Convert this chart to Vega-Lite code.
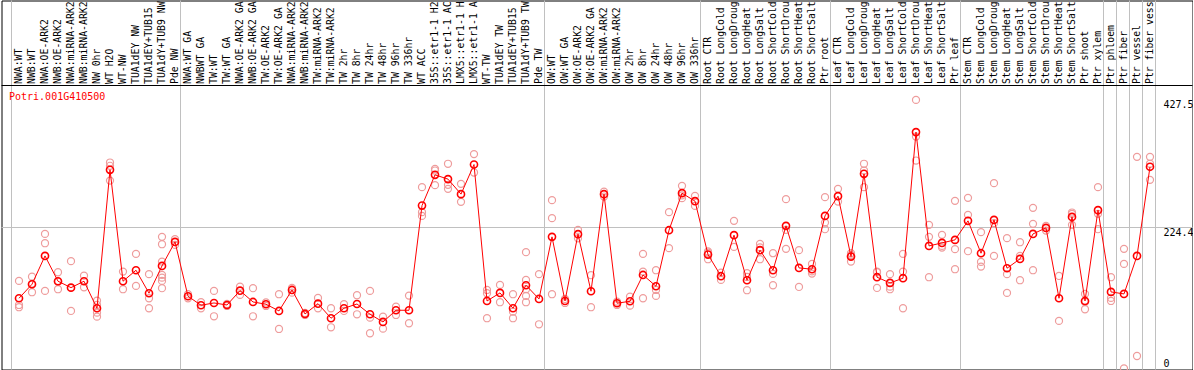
{
  "$schema": "https://vega.github.io/schema/vega-lite/v6.json",
  "width": 1191,
  "height": 369,
  "autosize": {"type": "none"},
  "padding": {"left": 1.5, "top": 0.5, "right": 0, "bottom": 0},
  "background": "white",
  "config": {"view": {"stroke": "black", "strokeWidth": 1}, "font": "DejaVu Sans Mono"},
  "datasets": {
    "groups": [
      {"sample": "NWA:WT"}, {"sample": "NWA:WT GA"}, {"sample": "OW:WT"}, {"sample": "Root CTR"}, {"sample": "Leaf CTR"},
      {"sample": "Stem CTR"}, {"sample": "Ptr phloem"}, {"sample": "Ptr fiber"}, {"sample": "Ptr vessel"}, {"sample": "Ptr fiber vessel"}
    ],
    "means": [
      {"sample": "NWA:WT", "value": 111.8}, {"sample": "NWB:WT", "value": 134.1}, {"sample": "NWA:OE-ARK2", "value": 179.2}, {"sample": "NWB:OE-ARK2", "value": 138.9},
      {"sample": "NWA:miRNA-ARK2", "value": 128.7}, {"sample": "NWB:miRNA-ARK2", "value": 138.9}, {"sample": "NW 0hr", "value": 95.9}, {"sample": "WT H2O", "value": 316.2},
      {"sample": "WT-NW", "value": 138.9}, {"sample": "TUA1dEY NW", "value": 156.4}, {"sample": "TUA1dEY+TUB15 NW", "value": 119.8}, {"sample": "TUA1dY+TUB9 NW", "value": 163.3},
      {"sample": "Pde NW", "value": 201.5}, {"sample": "NWA:WT GA", "value": 115.0}, {"sample": "NWBWT GA", "value": 100.7}, {"sample": "TW:WT", "value": 104.3},
      {"sample": "TW:WT GA", "value": 101.1}, {"sample": "NWA:OE-ARK2 GA", "value": 123.9}, {"sample": "NWB:OE-ARK2 GA", "value": 105.9}, {"sample": "TW:OE-ARK2", "value": 102.3},
      {"sample": "TW:OE-ARK2 GA", "value": 91.6}, {"sample": "NWA:miRNA-ARK2 GA", "value": 125.0}, {"sample": "NWB:miRNA-ARK2 GA", "value": 86.8}, {"sample": "TW:miRNA-ARK2", "value": 103.2},
      {"sample": "TW:miRNA-ARK2 GA", "value": 80.0}, {"sample": "TW 2hr", "value": 95.9}, {"sample": "TW 8hr", "value": 102.7}, {"sample": "TW 24hr", "value": 86.3},
      {"sample": "TW 48hr", "value": 74.1}, {"sample": "TW 96hr", "value": 92.7}, {"sample": "TW 336hr", "value": 92.7}, {"sample": "WT ACC", "value": 259.3},
      {"sample": "35S::etr1-1 H2O", "value": 308.2}, {"sample": "35S::etr1-1 ACC", "value": 301.4}, {"sample": "LMX5::etr1-1 H2O", "value": 277.5}, {"sample": "LMX5::etr1-1 ACC", "value": 324.6},
      {"sample": "WT-TW", "value": 107.5}, {"sample": "TUA1dEY TW", "value": 120.3}, {"sample": "TUA1dEY+TUB15 TW", "value": 95.9}, {"sample": "TUA1dY+TUB9 TW", "value": 132.5},
      {"sample": "Pde TW", "value": 110.7}, {"sample": "OW:WT", "value": 209.5}, {"sample": "OW:WT GA", "value": 107.5}, {"sample": "OW:OE-ARK2", "value": 213.8},
      {"sample": "OW:OE-ARK2 GA", "value": 123.0}, {"sample": "OW:miRNA-ARK2", "value": 277.5}, {"sample": "OW:miRNA-ARK2 GA", "value": 103.9}, {"sample": "OW 2hr", "value": 107.0},
      {"sample": "OW 8hr", "value": 148.9}, {"sample": "OW 24hr", "value": 130.9}, {"sample": "OW 48hr", "value": 220.1}, {"sample": "OW 96hr", "value": 279.1},
      {"sample": "OW 336hr", "value": 266.3}, {"sample": "Root CTR", "value": 181.3}, {"sample": "Root LongCold", "value": 146.9}, {"sample": "Root LongDrought", "value": 212.2},
      {"sample": "Root LongHeat", "value": 140.5}, {"sample": "Root LongSalt", "value": 188.3}, {"sample": "Root ShortCold", "value": 156.4}, {"sample": "Root ShortDrought", "value": 227.0},
      {"sample": "Root ShortHeat", "value": 160.1}, {"sample": "Root ShortSalt", "value": 158.0}, {"sample": "Ptr root", "value": 242.9}, {"sample": "Leaf CTR", "value": 274.3},
      {"sample": "Leaf LongCold", "value": 178.1}, {"sample": "Leaf LongDrought", "value": 309.8}, {"sample": "Leaf LongHeat", "value": 145.3}, {"sample": "Leaf LongSalt", "value": 136.2},
      {"sample": "Leaf ShortCold", "value": 143.7}, {"sample": "Leaf ShortDrought", "value": 376.2}, {"sample": "Leaf ShortHeat", "value": 195.1}, {"sample": "Leaf ShortSalt", "value": 199.9},
      {"sample": "Ptr leaf", "value": 204.7}, {"sample": "Stem CTR", "value": 235.0}, {"sample": "Stem LongCold", "value": 183.5}, {"sample": "Stem LongDrought", "value": 236.5},
      {"sample": "Stem LongHeat", "value": 159.6}, {"sample": "Stem LongSalt", "value": 174.4}, {"sample": "Stem ShortCold", "value": 214.2}, {"sample": "Stem ShortDrought", "value": 223.8},
      {"sample": "Stem ShortHeat", "value": 111.8}, {"sample": "Stem ShortSalt", "value": 241.3}, {"sample": "Ptr shoot", "value": 107.5}, {"sample": "Ptr xylem", "value": 252.0},
      {"sample": "Ptr phloem", "value": 121.9}, {"sample": "Ptr fiber", "value": 118.7}, {"sample": "Ptr vessel", "value": 179.2}, {"sample": "Ptr fiber vessel", "value": 321.0}
    ],
    "reps": [
      {"sample": "NWA:WT", "value": 139.4}, {"sample": "NWA:WT", "value": 101.1}, {"sample": "NWA:WT", "value": 97.5},
      {"sample": "NWB:WT", "value": 146.2}, {"sample": "NWB:WT", "value": 121.4}, {"sample": "NWB:WT", "value": 134.7},
      {"sample": "NWA:OE-ARK2", "value": 214.2}, {"sample": "NWA:OE-ARK2", "value": 199.4}, {"sample": "NWA:OE-ARK2", "value": 123.5},
      {"sample": "NWB:OE-ARK2", "value": 153.2}, {"sample": "NWB:OE-ARK2", "value": 126.2}, {"sample": "NWB:OE-ARK2", "value": 138.0},
      {"sample": "NWA:miRNA-ARK2", "value": 170.8}, {"sample": "NWA:miRNA-ARK2", "value": 91.6},
      {"sample": "NWB:miRNA-ARK2", "value": 147.8}, {"sample": "NWB:miRNA-ARK2", "value": 129.3},
      {"sample": "NW 0hr", "value": 108.0}, {"sample": "NW 0hr", "value": 101.1}, {"sample": "NW 0hr", "value": 88.9}, {"sample": "NW 0hr", "value": 82.5},
      {"sample": "WT H2O", "value": 327.8}, {"sample": "WT H2O", "value": 322.6}, {"sample": "WT H2O", "value": 299.1},
      {"sample": "WT-NW", "value": 154.2}, {"sample": "WT-NW", "value": 126.2},
      {"sample": "TUA1dEY NW", "value": 182.4}, {"sample": "TUA1dEY NW", "value": 131.4},
      {"sample": "TUA1dEY+TUB15 NW", "value": 150.1}, {"sample": "TUA1dEY+TUB15 NW", "value": 111.8}, {"sample": "TUA1dEY+TUB15 NW", "value": 95.9},
      {"sample": "TUA1dY+TUB9 NW", "value": 209.5}, {"sample": "TUA1dY+TUB9 NW", "value": 197.8}, {"sample": "TUA1dY+TUB9 NW", "value": 170.1}, {"sample": "TUA1dY+TUB9 NW", "value": 148.9}, {"sample": "TUA1dY+TUB9 NW", "value": 144.6}, {"sample": "TUA1dY+TUB9 NW", "value": 139.4}, {"sample": "TUA1dY+TUB9 NW", "value": 127.8},
      {"sample": "Pde NW", "value": 205.8}, {"sample": "Pde NW", "value": 196.7},
      {"sample": "NWA:WT GA", "value": 111.8}, {"sample": "NWA:WT GA", "value": 118.2},
      {"sample": "NWBWT GA", "value": 95.9}, {"sample": "NWBWT GA", "value": 105.5},
      {"sample": "TW:WT", "value": 123.5}, {"sample": "TW:WT", "value": 83.1},
      {"sample": "TW:WT GA", "value": 102.7}, {"sample": "TW:WT GA", "value": 99.5},
      {"sample": "NWA:OE-ARK2 GA", "value": 130.3}, {"sample": "NWA:OE-ARK2 GA", "value": 117.1},
      {"sample": "NWB:OE-ARK2 GA", "value": 127.8}, {"sample": "NWB:OE-ARK2 GA", "value": 83.1},
      {"sample": "TW:OE-ARK2", "value": 99.5}, {"sample": "TW:OE-ARK2", "value": 105.1},
      {"sample": "TW:OE-ARK2 GA", "value": 118.2}, {"sample": "TW:OE-ARK2 GA", "value": 62.9},
      {"sample": "NWA:miRNA-ARK2 GA", "value": 128.2}, {"sample": "NWA:miRNA-ARK2 GA", "value": 120.7},
      {"sample": "NWB:miRNA-ARK2 GA", "value": 86.8}, {"sample": "NWB:miRNA-ARK2 GA", "value": 88.4}, {"sample": "NWB:miRNA-ARK2 GA", "value": 85.2},
      {"sample": "TW:miRNA-ARK2", "value": 112.3}, {"sample": "TW:miRNA-ARK2", "value": 95.9},
      {"sample": "TW:miRNA-ARK2 GA", "value": 95.9}, {"sample": "TW:miRNA-ARK2 GA", "value": 65.6},
      {"sample": "TW 2hr", "value": 102.3}, {"sample": "TW 2hr", "value": 91.6},
      {"sample": "TW 8hr", "value": 116.6}, {"sample": "TW 8hr", "value": 86.3},
      {"sample": "TW 24hr", "value": 123.5}, {"sample": "TW 24hr", "value": 80.9}, {"sample": "TW 24hr", "value": 56.1},
      {"sample": "TW 48hr", "value": 82.5}, {"sample": "TW 48hr", "value": 63.4},
      {"sample": "TW 96hr", "value": 98.4}, {"sample": "TW 96hr", "value": 85.2},
      {"sample": "TW 336hr", "value": 116.0}, {"sample": "TW 336hr", "value": 72.0},
      {"sample": "WT ACC", "value": 288.6}, {"sample": "WT ACC", "value": 248.8}, {"sample": "WT ACC", "value": 242.9},
      {"sample": "35S::etr1-1 H2O", "value": 317.8}, {"sample": "35S::etr1-1 H2O", "value": 315.1}, {"sample": "35S::etr1-1 H2O", "value": 291.8},
      {"sample": "35S::etr1-1 ACC", "value": 325.8}, {"sample": "35S::etr1-1 ACC", "value": 292.3}, {"sample": "35S::etr1-1 ACC", "value": 285.9},
      {"sample": "LMX5::etr1-1 H2O", "value": 293.9}, {"sample": "LMX5::etr1-1 H2O", "value": 265.2},
      {"sample": "LMX5::etr1-1 ACC", "value": 341.2}, {"sample": "LMX5::etr1-1 ACC", "value": 311.9},
      {"sample": "WT-TW", "value": 125.0}, {"sample": "WT-TW", "value": 119.8}, {"sample": "WT-TW", "value": 80.0},
      {"sample": "TUA1dEY TW", "value": 133.0}, {"sample": "TUA1dEY TW", "value": 105.5},
      {"sample": "TUA1dEY+TUB15 TW", "value": 118.2}, {"sample": "TUA1dEY+TUB15 TW", "value": 90.5}, {"sample": "TUA1dEY+TUB15 TW", "value": 80.0},
      {"sample": "TUA1dY+TUB9 TW", "value": 185.1}, {"sample": "TUA1dY+TUB9 TW", "value": 141.0}, {"sample": "TUA1dY+TUB9 TW", "value": 126.2}, {"sample": "TUA1dY+TUB9 TW", "value": 115.5}, {"sample": "TUA1dY+TUB9 TW", "value": 105.5},
      {"sample": "Pde TW", "value": 150.1}, {"sample": "Pde TW", "value": 70.4},
      {"sample": "OW:WT", "value": 267.9}, {"sample": "OW:WT", "value": 239.3}, {"sample": "OW:WT", "value": 118.2},
      {"sample": "OW:WT GA", "value": 110.7}, {"sample": "OW:WT GA", "value": 104.3},
      {"sample": "OW:OE-ARK2", "value": 220.6}, {"sample": "OW:OE-ARK2", "value": 207.1},
      {"sample": "OW:OE-ARK2 GA", "value": 148.5}, {"sample": "OW:OE-ARK2 GA", "value": 97.5},
      {"sample": "OW:miRNA-ARK2", "value": 281.6}, {"sample": "OW:miRNA-ARK2", "value": 273.7},
      {"sample": "OW:miRNA-ARK2 GA", "value": 106.4}, {"sample": "OW:miRNA-ARK2 GA", "value": 101.1},
      {"sample": "OW 2hr", "value": 114.4}, {"sample": "OW 2hr", "value": 100.0},
      {"sample": "OW 8hr", "value": 182.4}, {"sample": "OW 8hr", "value": 154.2}, {"sample": "OW 8hr", "value": 111.8},
      {"sample": "OW 24hr", "value": 156.4}, {"sample": "OW 24hr", "value": 125.0}, {"sample": "OW 24hr", "value": 115.5},
      {"sample": "OW 48hr", "value": 248.8}, {"sample": "OW 48hr", "value": 191.5},
      {"sample": "OW 96hr", "value": 290.7}, {"sample": "OW 96hr", "value": 271.1}, {"sample": "OW 96hr", "value": 275.5},
      {"sample": "OW 336hr", "value": 274.8}, {"sample": "OW 336hr", "value": 258.8},
      {"sample": "Root CTR", "value": 184.4}, {"sample": "Root CTR", "value": 173.9}, {"sample": "Root CTR", "value": 186.4},
      {"sample": "Root LongCold", "value": 152.6}, {"sample": "Root LongCold", "value": 141.0},
      {"sample": "Root LongDrought", "value": 235.0}, {"sample": "Root LongDrought", "value": 193.5},
      {"sample": "Root LongHeat", "value": 151.6}, {"sample": "Root LongHeat", "value": 124.6}, {"sample": "Root LongHeat", "value": 145.7},
      {"sample": "Root LongSalt", "value": 198.3}, {"sample": "Root LongSalt", "value": 173.9}, {"sample": "Root LongSalt", "value": 192.7},
      {"sample": "Root ShortCold", "value": 183.5}, {"sample": "Root ShortCold", "value": 150.5}, {"sample": "Root ShortCold", "value": 132.5},
      {"sample": "Root ShortDrought", "value": 269.5}, {"sample": "Root ShortDrought", "value": 220.6}, {"sample": "Root ShortDrought", "value": 190.4},
      {"sample": "Root ShortHeat", "value": 188.3}, {"sample": "Root ShortHeat", "value": 129.8},
      {"sample": "Root ShortSalt", "value": 166.5}, {"sample": "Root ShortSalt", "value": 151.0}, {"sample": "Root ShortSalt", "value": 154.5},
      {"sample": "Ptr root", "value": 272.7}, {"sample": "Ptr root", "value": 232.2}, {"sample": "Ptr root", "value": 221.7},
      {"sample": "Leaf CTR", "value": 285.9}, {"sample": "Leaf CTR", "value": 265.7},
      {"sample": "Leaf LongCold", "value": 183.5}, {"sample": "Leaf LongCold", "value": 170.1}, {"sample": "Leaf LongCold", "value": 180.8},
      {"sample": "Leaf LongDrought", "value": 325.8}, {"sample": "Leaf LongDrought", "value": 288.6}, {"sample": "Leaf LongDrought", "value": 315.1},
      {"sample": "Leaf LongHeat", "value": 154.2}, {"sample": "Leaf LongHeat", "value": 128.2}, {"sample": "Leaf LongHeat", "value": 153.2},
      {"sample": "Leaf LongSalt", "value": 150.1}, {"sample": "Leaf LongSalt", "value": 130.3}, {"sample": "Leaf LongSalt", "value": 126.2},
      {"sample": "Leaf ShortCold", "value": 182.4}, {"sample": "Leaf ShortCold", "value": 154.2}, {"sample": "Leaf ShortCold", "value": 95.9},
      {"sample": "Leaf ShortDrought", "value": 427.5}, {"sample": "Leaf ShortDrought", "value": 369.2}, {"sample": "Leaf ShortDrought", "value": 331.0},
      {"sample": "Leaf ShortHeat", "value": 228.6}, {"sample": "Leaf ShortHeat", "value": 209.5}, {"sample": "Leaf ShortHeat", "value": 145.3},
      {"sample": "Leaf ShortSalt", "value": 212.7}, {"sample": "Leaf ShortSalt", "value": 192.4}, {"sample": "Leaf ShortSalt", "value": 195.1},
      {"sample": "Ptr leaf", "value": 266.8}, {"sample": "Ptr leaf", "value": 189.9}, {"sample": "Ptr leaf", "value": 158.0},
      {"sample": "Stem CTR", "value": 271.6}, {"sample": "Stem CTR", "value": 244.5}, {"sample": "Stem CTR", "value": 186.7},
      {"sample": "Stem LongCold", "value": 217.0}, {"sample": "Stem LongCold", "value": 169.6}, {"sample": "Stem LongCold", "value": 162.2},
      {"sample": "Stem LongDrought", "value": 295.0}, {"sample": "Stem LongDrought", "value": 231.3}, {"sample": "Stem LongDrought", "value": 179.2},
      {"sample": "Stem LongHeat", "value": 207.4}, {"sample": "Stem LongHeat", "value": 150.1}, {"sample": "Stem LongHeat", "value": 120.3},
      {"sample": "Stem LongSalt", "value": 201.0}, {"sample": "Stem LongSalt", "value": 179.2}, {"sample": "Stem LongSalt", "value": 140.5},
      {"sample": "Stem ShortCold", "value": 255.7}, {"sample": "Stem ShortCold", "value": 230.2}, {"sample": "Stem ShortCold", "value": 156.4},
      {"sample": "Stem ShortDrought", "value": 226.9}, {"sample": "Stem ShortDrought", "value": 219.5},
      {"sample": "Stem ShortHeat", "value": 147.3}, {"sample": "Stem ShortHeat", "value": 75.7},
      {"sample": "Stem ShortSalt", "value": 248.2}, {"sample": "Stem ShortSalt", "value": 228.6}, {"sample": "Stem ShortSalt", "value": 246.1},
      {"sample": "Ptr shoot", "value": 118.7}, {"sample": "Ptr shoot", "value": 94.3}, {"sample": "Ptr shoot", "value": 105.9},
      {"sample": "Ptr xylem", "value": 288.6}, {"sample": "Ptr xylem", "value": 246.1}, {"sample": "Ptr xylem", "value": 221.7},
      {"sample": "Ptr phloem", "value": 145.3}, {"sample": "Ptr phloem", "value": 112.3}, {"sample": "Ptr phloem", "value": 107.5},
      {"sample": "Ptr fiber", "value": 190.4}, {"sample": "Ptr fiber", "value": 166.5}, {"sample": "Ptr fiber", "value": 0.3},
      {"sample": "Ptr vessel", "value": 336.9}, {"sample": "Ptr vessel", "value": 19.9},
      {"sample": "Ptr fiber vessel", "value": 336.9}, {"sample": "Ptr fiber vessel", "value": 325.8}, {"sample": "Ptr fiber vessel", "value": 300.3}
    ]
  },
  "layer": [
    {
      "data": {"name": "groups"},
      "mark": {"type": "rule", "color": "#c0c0c0", "strokeWidth": 1, "xOffset": -1},
      "encoding": {
        "x": {"field": "sample", "type": "nominal", "bandPosition": 0}
      }
    },
    {
      "data": {"values": [{"sample": "Ptr fiber vessel"}]},
      "mark": {"type": "rule", "color": "#c0c0c0", "strokeWidth": 1, "xOffset": -1},
      "encoding": {
        "x": {"field": "sample", "type": "nominal", "bandPosition": 1}
      }
    },
    {
      "data": {"values": [{"level": 224.4}]},
      "mark": {"type": "rule", "color": "#c0c0c0", "strokeWidth": 1},
      "encoding": {
        "y": {"field": "level", "type": "quantitative"}
      }
    },
    {
      "data": {"values": [{"level": 450.4}]},
      "mark": {"type": "rule", "color": "black", "strokeWidth": 1},
      "encoding": {
        "y": {"field": "level", "type": "quantitative"}
      }
    },
    {
      "data": {"name": "reps"},
      "mark": {"type": "point", "shape": "circle", "filled": false, "color": "#ee9c9c", "strokeWidth": 1.2, "size": 50, "opacity": 1},
      "encoding": {
        "x": {
          "field": "sample", "type": "nominal",
          "scale": {
            "domain": ["NWA:WT", "NWB:WT", "NWA:OE-ARK2", "NWB:OE-ARK2", "NWA:miRNA-ARK2", "NWB:miRNA-ARK2", "NW 0hr", "WT H2O", "WT-NW", "TUA1dEY NW", "TUA1dEY+TUB15 NW", "TUA1dY+TUB9 NW", "Pde NW",
              "NWA:WT GA", "NWBWT GA", "TW:WT", "TW:WT GA", "NWA:OE-ARK2 GA", "NWB:OE-ARK2 GA", "TW:OE-ARK2", "TW:OE-ARK2 GA", "NWA:miRNA-ARK2 GA", "NWB:miRNA-ARK2 GA", "TW:miRNA-ARK2", "TW:miRNA-ARK2 GA",
              "TW 2hr", "TW 8hr", "TW 24hr", "TW 48hr", "TW 96hr", "TW 336hr", "WT ACC", "35S::etr1-1 H2O", "35S::etr1-1 ACC", "LMX5::etr1-1 H2O", "LMX5::etr1-1 ACC", "WT-TW", "TUA1dEY TW", "TUA1dEY+TUB15 TW", "TUA1dY+TUB9 TW", "Pde TW",
              "OW:WT", "OW:WT GA", "OW:OE-ARK2", "OW:OE-ARK2 GA", "OW:miRNA-ARK2", "OW:miRNA-ARK2 GA", "OW 2hr", "OW 8hr", "OW 24hr", "OW 48hr", "OW 96hr", "OW 336hr",
              "Root CTR", "Root LongCold", "Root LongDrought", "Root LongHeat", "Root LongSalt", "Root ShortCold", "Root ShortDrought", "Root ShortHeat", "Root ShortSalt", "Ptr root",
              "Leaf CTR", "Leaf LongCold", "Leaf LongDrought", "Leaf LongHeat", "Leaf LongSalt", "Leaf ShortCold", "Leaf ShortDrought", "Leaf ShortHeat", "Leaf ShortSalt", "Ptr leaf",
              "Stem CTR", "Stem LongCold", "Stem LongDrought", "Stem LongHeat", "Stem LongSalt", "Stem ShortCold", "Stem ShortDrought", "Stem ShortHeat", "Stem ShortSalt", "Ptr shoot", "Ptr xylem",
              "Ptr phloem", "Ptr fiber", "Ptr vessel", "Ptr fiber vessel"],
            "range": [11, 1155],
            "paddingInner": 0,
            "paddingOuter": 0
          },
          "axis": {
            "orient": "top", "offset": -85, "title": null, "labelAngle": -90, "labelAlign": "left", "labelBaseline": "middle",
            "labelPadding": 2, "ticks": false, "domain": false, "grid": false, "labelOverlap": false, "labelLimit": 300,
            "labelExpr": "substring(datum.label, 0, 14)",
            "labelFont": "DejaVu Sans Mono", "labelFontSize": 9.8, "labelColor": "black"
          }
        },
        "y": {
          "field": "value", "type": "quantitative",
          "scale": {"domain": [0, 450.4], "range": [368, 85], "nice": false, "zero": false},
          "axis": {
            "orient": "right", "title": null, "values": [0, 224.4, 427.5],
            "labelExpr": "'' + datum.value",
            "domain": false, "ticks": false, "grid": false, "labelPadding": -29.5, "labelAlign": "left", "labelFlush": false, "labelOverlap": false,
            "labelBaseline": {"condition": {"test": "datum.value == 0", "value": "bottom"}, "value": "top"},
            "labelFont": "DejaVu Sans Mono", "labelFontSize": 10, "labelColor": "black"
          }
        }
      }
    },
    {
      "data": {"name": "means"},
      "mark": {"type": "line", "color": "red", "strokeWidth": 1},
      "encoding": {
        "x": {"field": "sample", "type": "nominal"},
        "y": {"field": "value", "type": "quantitative"}
      }
    },
    {
      "data": {"name": "means"},
      "mark": {"type": "point", "shape": "circle", "filled": false, "color": "red", "strokeWidth": 1.6, "size": 50, "opacity": 1},
      "encoding": {
        "x": {"field": "sample", "type": "nominal"},
        "y": {"field": "value", "type": "quantitative"}
      }
    },
    {
      "data": {"values": [{"gene": "Potri.001G410500", "sample": "NWA:WT", "level": 432.6}]},
      "mark": {"type": "text", "color": "red", "font": "DejaVu Sans Mono", "fontSize": 10, "align": "left", "baseline": "middle", "dx": -10},
      "encoding": {
        "x": {"field": "sample", "type": "nominal"},
        "y": {"field": "level", "type": "quantitative"},
        "text": {"field": "gene"}
      }
    }
  ]
}
